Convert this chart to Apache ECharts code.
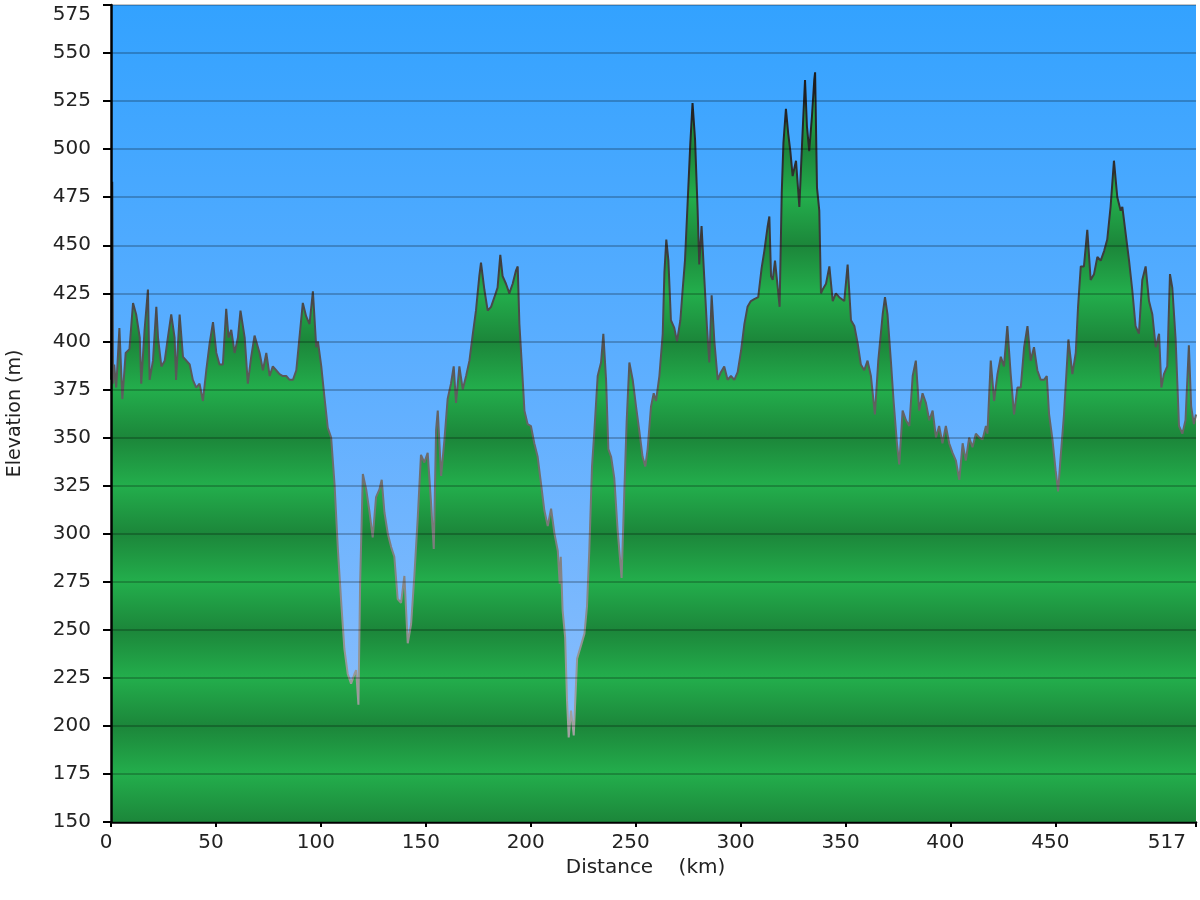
<!DOCTYPE html>
<html>
<head>
<meta charset="utf-8">
<script src="https://cdn.jsdelivr.net/npm/echarts@6/dist/echarts.min.js"></script>
<style>
html,body{margin:0;padding:0;background:#fff;}
#chart{width:1200px;height:900px;}
</style>
</head>
<body>
<div id="chart"></div>
<script>
// Distance along route (km)
const distanceKm = [
0,0.6,1.0,1.5,2.5,4.0,5.4,7.0,8.8,10.5,12.0,13.7,14.4,16.0,17.6,18.4,20.0,21.6,22.4,24.0,25.6,
27.1,28.7,30.3,31.0,32.7,34.3,35.9,37.5,39.0,40.6,42.2,43.8,45.4,47.0,48.6,50.2,51.7,53.3,54.9,56.0,
57.3,58.9,60.5,61.7,63.7,65.2,66.8,68.4,70.8,72.4,74.0,75.6,77.1,78.7,80.3,81.9,83.5,85.1,86.7,88.3,
89.8,91.4,93.0,94.6,96.2,97.8,98.6,100.2,101.7,103.3,104.9,106.5,108.1,109.6,111.2,112.8,114.4,116.0,116.8,117.9,
118.7,120.0,121.6,123.1,124.7,126.3,127.9,129.0,130.3,131.9,133.5,135.0,136.6,138.2,139.8,141.4,143.0,144.6,146.2,147.7,
149.3,150.9,152.5,153.8,154.9,155.7,157.3,158.9,160.4,162.0,163.3,164.4,166.0,167.6,169.2,170.8,172.3,173.9,175.5,176.3,
177.9,179.5,181.1,182.7,184.2,185.5,186.6,188.2,189.8,191.4,193.0,193.8,194.6,195.8,197.0,198.5,200.1,201.7,203.3,204.9,
206.5,208.1,209.7,211.3,212.9,213.8,214.3,215.2,216.4,217.3,218.1,219.2,220.5,222.1,224.0,225.6,226.8,227.9,229.2,230.3,
231.9,233.5,234.6,235.9,237.0,238.3,239.8,241.4,243.3,244.6,245.7,247.0,248.6,250.2,251.8,253.3,254.6,255.7,257.3,258.6,
259.7,261.3,262.9,263.7,264.6,265.6,266.8,268.4,269.7,271.3,272.4,273.5,274.8,276.0,277.1,278.3,279.5,280.3,281.4,282.7,
284.0,285.1,286.2,287.5,289.1,290.6,292.2,293.8,295.4,297.0,298.6,300.2,301.8,303.3,304.9,306.5,308.4,310.0,311.3,312.9,
313.7,314.5,315.3,316.4,317.7,318.6,319.6,320.4,321.6,322.7,323.7,324.8,326.4,328.0,329.3,330.7,331.6,332.7,334.0,335.1,
335.5,336.4,337.5,338.3,339.1,340.7,342.3,343.9,345.4,347.0,349.4,351.0,352.6,354.2,355.8,357.3,358.9,360.5,362.1,364.0,
365.6,367.7,368.8,370.0,371.6,372.9,374.5,375.6,377.2,378.8,380.4,382.0,383.5,385.1,386.7,388.3,389.9,391.5,393.1,394.6,
396.2,397.8,399.4,401.0,402.6,404.2,405.8,407.3,408.9,410.5,412.1,413.7,415.3,416.9,417.6,419.2,420.8,422.4,424.0,425.5,
427.1,428.7,430.3,431.9,433.5,435.1,436.7,438.2,439.8,441.4,443.0,444.6,445.9,447.0,448.6,450.1,451.3,452.5,454.1,456.2,
458.1,459.7,460.8,462.1,463.6,465.2,466.8,468.4,470.0,471.6,473.2,474.7,476.3,477.9,479.5,481.1,481.9,483.5,485.1,486.6,
488.2,489.8,491.4,493.0,494.6,496.2,497.8,499.4,500.5,501.7,503.3,504.6,505.7,507.3,508.9,510.5,512.0,513.6,514.7,516.0,
517.0
];
// Elevation (m)
const elevationM = [
380,483,378,388,376,407,370,394,396,420,414,402,378,406,427,380,390,418,402,387,390,
402,414,402,380,414,392,390,388,380,376,378,369,385,399,410,394,388,388,417,402,
406,394,402,416,402,378,392,403,394,385,394,382,387,385,383,382,382,380,380,385,
402,420,413,409,426,397,400,387,371,355,350,326,292,266,240,227,222,227,229,211,
274,331,323,312,298,319,323,328,311,300,293,288,266,264,278,243,253,279,309,341,
337,342,316,292,354,364,330,349,370,378,387,368,387,375,382,390,403,416,434,441,
427,416,418,423,428,445,434,430,425,430,437,439,409,387,364,357,356,347,340,326,
312,304,313,300,291,274,288,260,246,213,194,208,195,235,242,248,262,291,335,353,
382,389,404,380,344,340,329,302,277,322,358,389,380,366,353,340,335,344,366,373,
369,382,404,436,453,442,411,407,400,411,427,442,473,502,524,505,469,440,460,433,
407,389,424,400,380,384,387,380,382,380,384,395,409,418,421,422,423,438,447,460,
465,434,432,442,428,418,477,503,521,508,499,486,494,470,503,536,512,499,517,536,
540,480,468,425,427,430,439,421,425,423,421,440,411,408,399,388,385,390,382,362,
390,414,423,414,390,369,347,336,364,359,356,382,390,364,373,368,359,364,350,356,
347,356,347,342,338,328,347,338,350,345,352,350,349,356,352,390,369,383,392,387,
408,383,362,376,376,397,408,390,397,385,380,380,382,362,349,333,322,340,362,401,
383,394,418,439,439,458,432,435,444,442,447,453,470,494,475,468,470,456,442,427,
408,404,432,439,421,414,397,404,376,383,387,435,428,401,356,352,359,398,366,357,
362
];
// Axis tick values
const yTicks = [150,175,200,225,250,275,300,325,350,375,400,425,450,475,500,525,550,575];
const xTickLabels = [0,50,100,150,200,250,300,350,400,450,517];

const chart = echarts.init(document.getElementById('chart'), null, {renderer:'canvas'});
const points = distanceKm.map((d,i)=>[d, elevationM[i]]);

const gridTop = 5, gridBottomPx = 822;
const yMin = 150, yMax = 575;
// banded fill stops (dark at multiples of 50, light at 25 offsets)
const fillStops = [];
yTicks.slice().reverse().forEach(v=>{
  fillStops.push({offset:(yMax - v)/(yMax - yMin), color: (v % 50 === 0) ? '#1c863a' : '#23ae4c'});
});

const FONT = 'DejaVu Sans, Verdana, sans-serif';

chart.setOption({
  animation:false,
  grid:{left:111, right:4, top:gridTop, bottom:900-gridBottomPx, show:true, borderWidth:0,
    containLabel:false, outerBoundsMode:'none',
    backgroundColor:new echarts.graphic.LinearGradient(0,0,0,1,[
      {offset:0,color:'#33a2ff'},{offset:0.5,color:'#62b0ff'},{offset:1,color:'#95c1fb'}])},
  xAxis:{
    type:'value', min:0, max:517,
    name:'Distance    (km)', nameLocation:'middle', nameGap:36, nameMoveOverlap:false,
    nameTextStyle:{fontFamily:FONT, fontSize:20, color:'#222', padding:[0,16,0,0]},
    axisLine:{show:true, onZero:false, lineStyle:{color:'#000', width:2.5}},
    axisTick:{show:true, length:5, customValues:xTickLabels, lineStyle:{color:'#000', width:2}},
    axisLabel:{customValues:xTickLabels, fontFamily:FONT, fontSize:20, color:'#222', margin:11,
      padding:[0,10,0,0], alignMaxLabel:'right'},
    splitLine:{show:false}
  },
  yAxis:{
    type:'value', min:yMin, max:yMax, interval:25, z:5,
    name:'Elevation (m)', nameLocation:'middle', nameGap:86, nameRotate:90, nameMoveOverlap:false,
    nameTextStyle:{fontFamily:FONT, fontSize:19, color:'#222'},
    axisLine:{show:true, lineStyle:{color:'#000', width:2.5}},
    axisTick:{show:true, length:8, lineStyle:{color:'#000', width:2}},
    axisLabel:{fontFamily:FONT, fontSize:20, color:'#222', margin:20, verticalAlignMaxLabel:'top'},
    splitLine:{show:true, lineStyle:{color:'rgba(0,0,0,0.3)', width:1.5}}
  },
  series:[{
    type:'line', data:points, showSymbol:false, smooth:false, z:2,
    lineStyle:{width:2, color:{type:'linear', x:0, y:gridTop, x2:0, y2:gridBottomPx, global:true,
      colorStops:[{offset:0,color:'#111'},{offset:0.3,color:'#3c3c3c'},{offset:0.5,color:'#626262'},{offset:0.8,color:'#969696'},{offset:1,color:'#b0b0b0'}]}},
    areaStyle:{opacity:1, origin:'start', color:{type:'linear', x:0, y:gridTop, x2:0, y2:gridBottomPx, global:true, colorStops:fillStops}}
  }]
});
</script>
</body>
</html>
